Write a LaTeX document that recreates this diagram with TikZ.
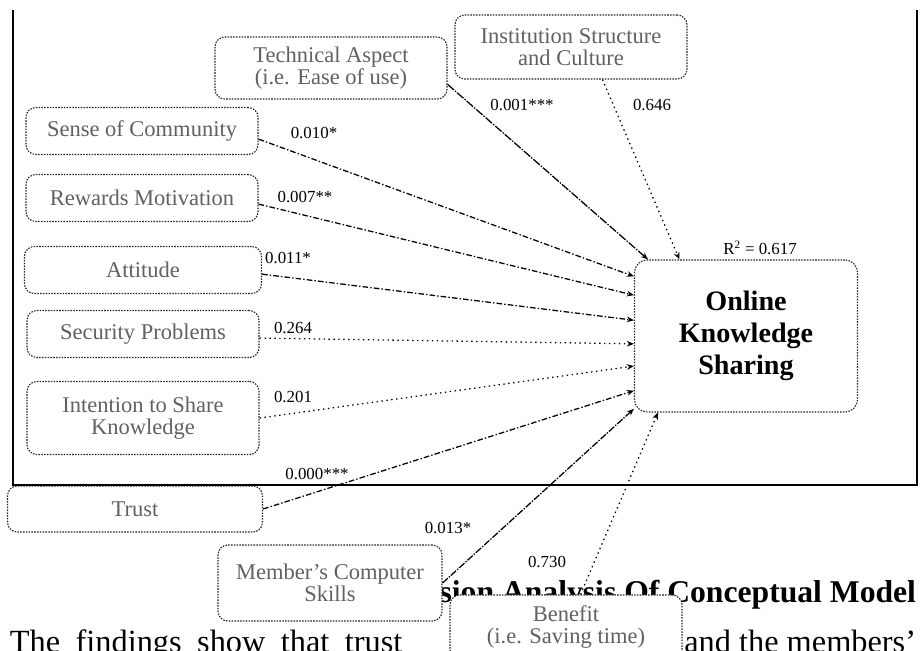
\documentclass[tikz,border=0pt]{standalone}
\usepackage{fontspec}
\setmainfont{Liberation Serif}
\usepackage{tikz}
\usetikzlibrary{arrows.meta, positioning}

\begin{document}
\begin{tikzpicture}[
		x=0.025cm, y=-0.025cm,
		box/.style={
			rectangle,
			rounded corners=7pt,
			draw=black!85,
			line width=0.8pt,
			dash pattern=on 1.1pt off 0.9pt,
			minimum width=5.8cm,
			minimum height=1.175cm,
			align=center,
			fill=white,
			text=black!62,
			font=\fontsize{16}{15.6}\selectfont
		},
		link/.style={line width=0.9pt, -{Stealth[length=5pt, width=4pt]}},
		dashdot/.style={dash pattern=on 4pt off 1.5pt on 1pt off 1.5pt},
		sparse/.style={dash pattern=on 1pt off 2.5pt},
		coef/.style={font=\fontsize{12}{12}\selectfont, inner sep=0pt},
		pagetext/.style={font=\fontsize{23}{24}\selectfont}
	]
	\useasboundingbox (0,0) rectangle (921,651);
	
	% Page text behind the model
	\node[anchor=base east, font=\fontsize{22.5}{24}\selectfont\bfseries] (heading) at (921,602) {sion Analysis Of Conceptual Model};
	\node[anchor=base west, pagetext] (bodyleft) at (5,652) {\spaceskip=11pt\relax The findings show that trust};
	\node[anchor=base east, pagetext] (bodyright) at (921,652) {and the members'};
	
	% Factor boxes
	\node[box, minimum height=1.55cm] (tech) at (331,68) {Technical Aspect\\(i.e. Ease of use)};
	\node[box, minimum height=1.6cm] (inst) at (571,47) {Institution Structure\\and Culture};
	\node[box] (sense) at (142,131) {Sense of Community};
	\node[box] (reward) at (142,198) {Rewards Motivation};
	\node[box, minimum width=5.925cm] (attitude) at (143,270) {Attitude};
	\node[box] (security) at (143,334) {Security Problems};
	\node[box, minimum height=1.825cm] (intent) at (143,418) {Intention to Share\\Knowledge};
	\node[box, minimum width=6.375cm, minimum height=1.15cm] (trust) at (135,509) {Trust};
	\node[box, minimum width=5.6cm, minimum height=1.9cm] (member) at (330,583) {Member's Computer\\Skills};
	\node[box, minimum height=1.6cm] (benefit) at (566,627) {Benefit\\(i.e. Saving time)};
	
	% Outcome box
	\node[box, minimum width=5.575cm, minimum height=3.8cm, rounded corners=9pt, text=black,
		font=\fontsize{20}{22.7}\selectfont\bfseries] (oks) at (746,336) {Online\\Knowledge\\Sharing};
	
	% Connectors
	\draw[link, dash pattern=on 6pt off 1pt on 1pt off 1pt] (tech.-8) -- (oks.142);
	\draw[link, sparse] (inst.-46) -- (oks.131);
	\draw[link, dashdot] (sense.-4) -- (oks.152);
	\draw[link, dashdot] (reward.-3) -- (oks.160);
	\draw[link, dashdot] (attitude.-2) -- (oks.172);
	\draw[link, sparse] (security.-2) -- (oks.184);
	\draw[link, sparse] (intent.east) -- (oks.195);
	\draw[link, dashdot] (trust.east) -- (oks.206);
	\draw[link, dash pattern=on 5pt off 1pt on 1pt off 1pt] (member.east) -- (oks.213);
	\draw[link, sparse] (benefit.66) -- (oks.221);
	
	% Coefficients
	\node[coef] (ctech) at (522,105) {0.001***};
	\node[coef] (cinst) at (652,105) {0.646};
	\node[coef] (csense) at (314,133) {0.010*};
	\node[coef] (creward) at (305,197) {0.007**};
	\node[coef] (catt) at (288,258) {0.011*};
	\node[coef] (csec) at (293,328) {0.264};
	\node[coef] (cint) at (293,397) {0.201};
	\node[coef] (ctrust) at (317,474) {0.000***};
	\node[coef] (cmember) at (448,528) {0.013*};
	\node[coef] (cbenefit) at (547,562) {0.730};
	\node[coef] (rsq) at (760,248) {R\textsuperscript{2} = 0.617};
	
	% Frame
	\draw[line width=1.5pt] (13,10) -- (13,485) -- (917,485) -- (917,10);
	
\end{tikzpicture}
\end{document}
